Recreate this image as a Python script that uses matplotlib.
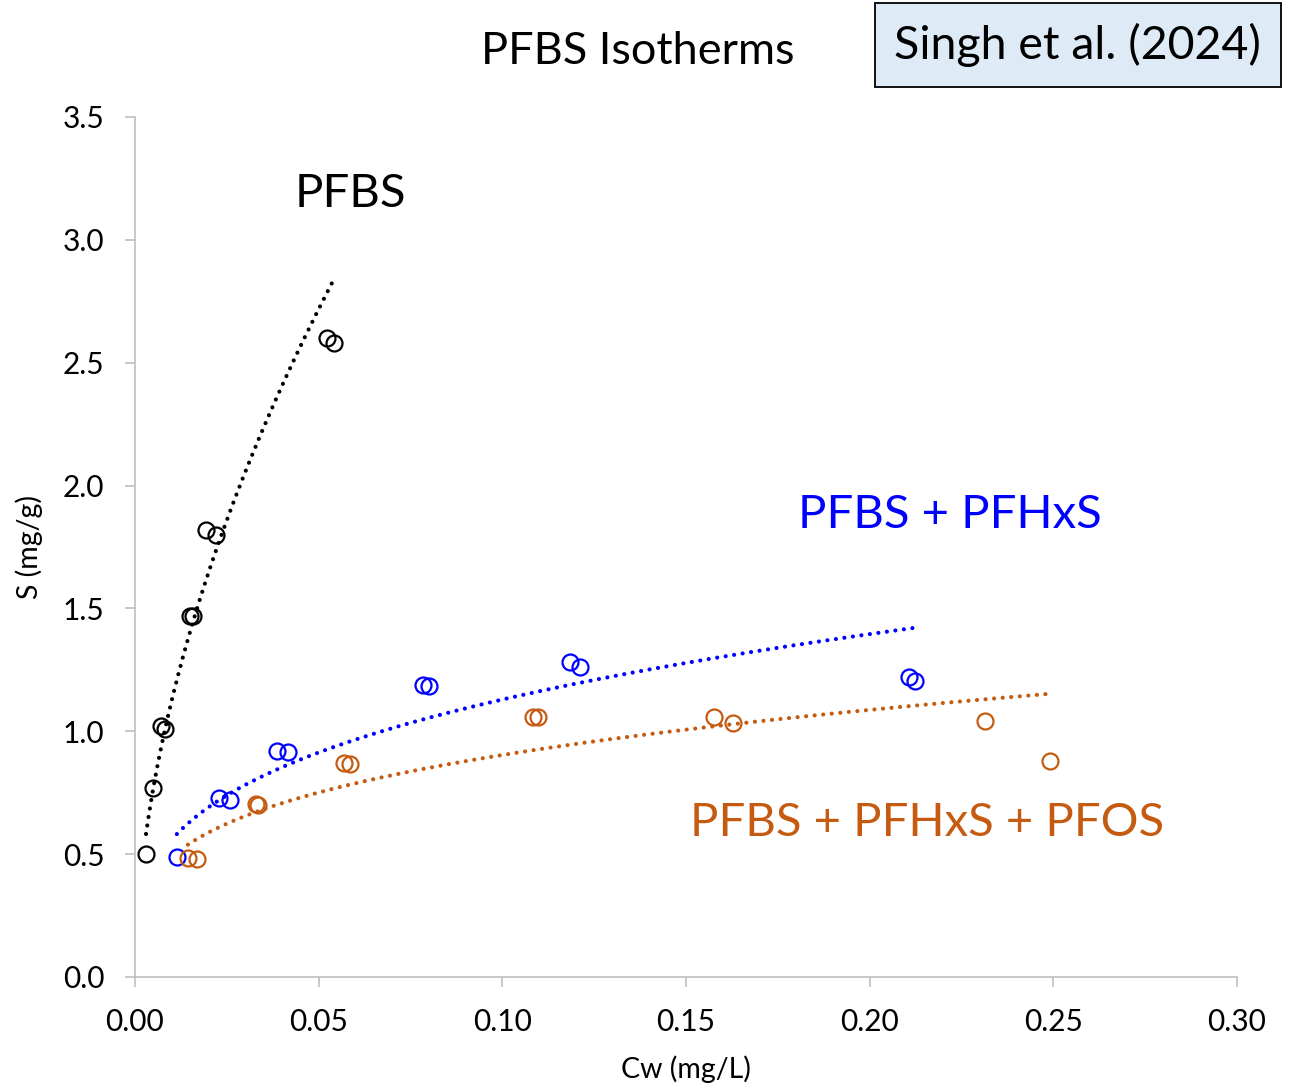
import numpy as np
import matplotlib
matplotlib.use("Agg")
import matplotlib.pyplot as plt

plt.rcParams['font.family'] = ['Lato', 'DejaVu Sans']

# Data (Cw in mg/L, S in mg/g)
pfbs_cw = [0.0030, 0.0049, 0.0071, 0.0082, 0.0150, 0.0158, 0.0193, 0.0221, 0.0523, 0.0542]
pfbs_s = [0.50, 0.77, 1.02, 1.01, 1.47, 1.47, 1.82, 1.80, 2.60, 2.58]

mix2_cw = [0.0114, 0.0229, 0.0259, 0.0387, 0.0417, 0.0784, 0.0800, 0.1184, 0.1212, 0.2107, 0.2124]
mix2_s = [0.49, 0.73, 0.72, 0.92, 0.915, 1.19, 1.185, 1.28, 1.26, 1.22, 1.205]

mix3_cw = [0.0144, 0.0169, 0.0330, 0.0334, 0.0569, 0.0585, 0.1084, 0.1097, 0.1576, 0.1628, 0.2314, 0.2491]
mix3_s = [0.485, 0.48, 0.705, 0.70, 0.87, 0.865, 1.06, 1.06, 1.06, 1.035, 1.04, 0.88]

series_labels = ["PFBS", "PFBS + PFHxS", "PFBS + PFHxS + PFOS"]
series_colors = ["#000000", "#0000FF", "#C55A11"]
x_ticks = [0.00, 0.05, 0.10, 0.15, 0.20, 0.25, 0.30]
y_ticks = [0.0, 0.5, 1.0, 1.5, 2.0, 2.5, 3.0, 3.5]

fig = plt.figure(figsize=(12.93, 10.87), dpi=100)
ax = fig.add_axes([0.1044, 0.1012, 0.8523, 0.7912])

series = [(pfbs_cw, pfbs_s), (mix2_cw, mix2_s), (mix3_cw, mix3_s)]
for (cw, s), col in zip(series, series_colors):
    cw = np.asarray(cw)
    s = np.asarray(s)
    ax.plot(cw, s, linestyle='none', marker='o', markersize=11.5,
            markerfacecolor='none', markeredgecolor=col, markeredgewidth=1.6, zorder=3)
    # Power-law (Freundlich) trendline fitted to the data, as in a spreadsheet
    n, lnK = np.polyfit(np.log(cw), np.log(s), 1)
    xf = np.linspace(cw.min(), cw.max(), 300)
    ax.plot(xf, np.exp(lnK) * xf ** n, color=col, lw=3,
            linestyle=(0, (0.01, 2.05)), dash_capstyle='round', zorder=4)

ax.set_xlim(0, 0.30)
ax.set_ylim(0, 3.5)
ax.set_xticks(x_ticks)
ax.set_xticklabels([f"{v:.2f}" for v in x_ticks])
ax.set_yticks(y_ticks)
ax.set_yticklabels([f"{v:.1f}" for v in y_ticks])
for sp in ['top', 'right']:
    ax.spines[sp].set_visible(False)
for sp in ['left', 'bottom']:
    ax.spines[sp].set_color('#BFBFBF')
    ax.spines[sp].set_linewidth(1.2)
ax.tick_params(axis='both', direction='out', length=7, width=1.2, color='#BFBFBF',
               labelsize=21.5, labelcolor='black')
ax.tick_params(axis='y', pad=15)
ax.tick_params(axis='x', pad=15)

ax.set_xlabel("Cw (mg/L)", fontsize=20.5, labelpad=14)
ax.set_ylabel("S (mg/g)", fontsize=20.5, labelpad=14)

fig.text(0.4935, 0.953, "PFBS Isotherms", fontsize=32.5, ha='center', va='center')
fig.text(0.8334, 0.9585, "Singh et al. (2024)", fontsize=33.5, ha='center', va='center',
         bbox=dict(boxstyle='square,pad=0.42', facecolor='#DEEBF7', edgecolor='black', linewidth=1.3))

ax.text(0.0586, 3.185, series_labels[0], fontsize=34, color=series_colors[0], ha='center', va='center')
ax.text(0.2218, 1.88, series_labels[1], fontsize=34, color=series_colors[1], ha='center', va='center')
ax.text(0.2155, 0.625, series_labels[2], fontsize=34, color=series_colors[2], ha='center', va='center')

fig.savefig("out.png", dpi=100)
